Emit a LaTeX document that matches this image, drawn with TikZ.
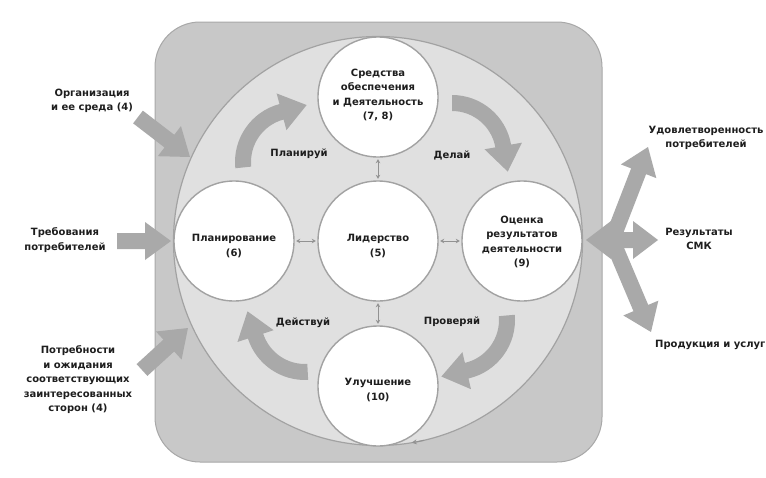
\documentclass[tikz,border=0pt]{standalone}
\usepackage{fontspec}
\setmainfont{DejaVu Sans}
\usetikzlibrary{calc,arrows.meta}
\definecolor{rectfill}{HTML}{C8C8C8}
\definecolor{rectline}{HTML}{A8A8A8}
\definecolor{bigfill}{HTML}{E0E0E0}
\definecolor{circline}{HTML}{A2A2A2}
\definecolor{arrowfill}{HTML}{A9A9A9}
\definecolor{txt}{HTML}{1E1E1E}
\newcommand{\pdcaarrow}[5]{%
  \fill[arrowfill] ($(#1,#2)+({#4}:{#3+8})$) arc[start angle=#4, end angle=#5, radius=#3+8]
    -- ($(#1,#2)+({#5}:{#3+19})$)
    -- ($(#1,#2)+({#5}:{#3})+({#5-90}:26)$)
    -- ($(#1,#2)+({#5}:{#3-19})$)
    -- ($(#1,#2)+({#5}:{#3-8})$) arc[start angle=#5, end angle=#4, radius=#3-8] -- cycle;
}
\newcommand{\blockarrow}[4]{%
  \pgfmathsetmacro\baang{atan2(#4-#2,#3-#1)}%
  \pgfmathsetmacro\balen{veclen(#3-#1,#4-#2)}%
  \fill[arrowfill, shift={(#1,#2)}, rotate=\baang] (0,-8) -- (\balen-26,-8) -- (\balen-26,-19)
    -- (\balen,0) -- (\balen-26,19) -- (\balen-26,8) -- (0,8) -- cycle;
}
\tikzset{
  lbl/.style={text=txt, font=\bfseries\fontsize{10}{14.5}\selectfont, align=center, inner sep=0pt},
  pcirc/.style={circle, draw=circline, line width=1.4pt, fill=white, minimum size=120pt, inner sep=0pt},
  smallarr/.style={draw=circline!90!black, line width=0.9pt, {Stealth[length=4pt,width=4.5pt]}-{Stealth[length=4pt,width=4.5pt]}, shorten <=1.5pt, shorten >=1.5pt}
}
\begin{document}
\begin{tikzpicture}[x=1pt,y=1pt]
\useasboundingbox (0,0) rectangle (766,-477);
\fill[white] (0,0) rectangle (766,-477);
% outer frame
\draw[rectline, fill=rectfill, line width=1pt, rounded corners=45pt] (155,-22) rectangle (602,-462);
% big circle
\node[circle, draw=circline, fill=bigfill, line width=1.2pt, minimum size=409pt, inner sep=0pt] (big) at (378,-241) {};
\draw[circline!90!black, line width=1pt, -{Stealth[length=5pt,width=5pt]}] ($(big.center)+(283:204.5)$) arc[start angle=283, end angle=279.5, radius=204.5];
% input arrows
\blockarrow{138}{-117}{190}{-157}
\blockarrow{117}{-241}{171}{-241}
\blockarrow{142}{-370}{188}{-328}
% output arrows
\blockarrow{612}{-240}{648}{-147}
\blockarrow{612}{-240}{651}{-332}
\fill[arrowfill] (586,-240) -- (611,-221) -- (611,-232) -- (633,-232) -- (633,-221) -- (658,-240)
  -- (633,-259) -- (633,-248) -- (611,-248) -- (611,-259) -- cycle;
% PDCA arrows
\pdcaarrow{295}{-162}{52}{186}{105}
\pdcaarrow{452}{-155}{52}{90}{10}
\pdcaarrow{455}{-320}{52}{5}{-77}
\pdcaarrow{305}{-320}{52}{273}{198}
% circles
\node[pcirc] (res) at (378,-97) {};
\node[pcirc] (plan) at (234,-241) {};
\node[pcirc] (lead) at (378,-241) {};
\node[pcirc] (eval) at (522,-241) {};
\node[pcirc] (impr) at (378,-386) {};
\draw[smallarr] (lead) -- (res);
\draw[smallarr] (lead) -- (plan);
\draw[smallarr] (lead) -- (eval);
\draw[smallarr] (lead) -- (impr);
% circle texts
\node[lbl] (restext) at (378,-95) {Средства\\обеспечения\\и Деятельность\\(7, 8)};
\node[lbl] (plantext) at (234,-246) {Планирование\\(6)};
\node[lbl] (leadtext) at (378,-246) {Лидерство\\(5)};
\node[lbl] (evaltext) at (522,-242) {Оценка\\результатов\\деятельности\\(9)};
\node[lbl] (imprtext) at (378,-390) {Улучшение\\(10)};
% cycle labels
\node[lbl] (lplan) at (299,-154) {Планируй};
\node[lbl] (ldo) at (452,-155) {Делай};
\node[lbl] (lcheck) at (452,-322) {Проверяй};
\node[lbl] (lact) at (303,-323) {Действуй};
% side labels
\node[lbl] (org) at (92,-101) {Организация\\и ее среда (4)};
\node[lbl] (req) at (65,-240) {Требования\\потребителей};
\node[lbl] (need) at (78,-380) {Потребности\\и ожидания\\соответствующих\\заинтересованных\\сторон (4)};
\node[lbl] (sat) at (706,-138) {Удовлетворенность\\потребителей};
\node[lbl] (qms) at (699,-239) {Результаты\\СМК};
\node[lbl, anchor=west] (prod) at (655,-345) {Продукция и услуги};
\end{tikzpicture}
\end{document}
